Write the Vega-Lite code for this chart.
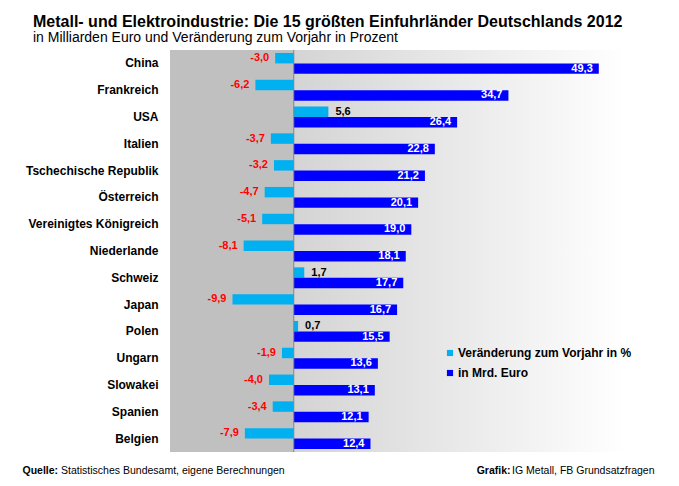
{
  "$schema": "https://vega.github.io/schema/vega-lite/v6.json",
  "width": 495,
  "height": 402,
  "padding": {"left": 22, "top": 13, "right": 0, "bottom": 0},
  "background": "white",
  "config": {
    "locale": {"number": {"decimal": ",", "thousands": ".", "grouping": [3], "currency": ["", " €"], "minus": "-"}},
    "font": "Liberation Sans",
    "view": {"stroke": null}
  },
  "view": {
    "stroke": null,
    "fill": {
      "gradient": "linear", "x1": 0, "x2": 1, "y1": 0, "y2": 0,
      "stops": [
        {"offset": 0, "color": "#c0c0c0"},
        {"offset": 0.248, "color": "#c0c0c0"},
        {"offset": 0.249, "color": "#d4d4d4"},
        {"offset": 0.92, "color": "#ffffff"},
        {"offset": 1, "color": "#ffffff"}
      ]
    }
  },
  "title": {
    "text": "Metall- und Elektroindustrie: Die 15 größten Einfuhrländer Deutschlands 2012",
    "subtitle": "in Milliarden Euro und Veränderung zum Vorjahr in Prozent",
    "anchor": "start",
    "frame": "bounds",
    "dx": 11,
    "fontSize": 16,
    "fontWeight": "bold",
    "color": "#000000",
    "subtitleFontSize": 14,
    "subtitleColor": "#000000",
    "subtitlePadding": 1,
    "offset": 5
  },
  "data": {
    "values": [
      {"land": "China", "serie": "Veränderung zum Vorjahr in %", "wert": -3.0},
      {"land": "China", "serie": "in Mrd. Euro", "wert": 49.3},
      {"land": "Frankreich", "serie": "Veränderung zum Vorjahr in %", "wert": -6.2},
      {"land": "Frankreich", "serie": "in Mrd. Euro", "wert": 34.7},
      {"land": "USA", "serie": "Veränderung zum Vorjahr in %", "wert": 5.6},
      {"land": "USA", "serie": "in Mrd. Euro", "wert": 26.4},
      {"land": "Italien", "serie": "Veränderung zum Vorjahr in %", "wert": -3.7},
      {"land": "Italien", "serie": "in Mrd. Euro", "wert": 22.8},
      {"land": "Tschechische Republik", "serie": "Veränderung zum Vorjahr in %", "wert": -3.2},
      {"land": "Tschechische Republik", "serie": "in Mrd. Euro", "wert": 21.2},
      {"land": "Österreich", "serie": "Veränderung zum Vorjahr in %", "wert": -4.7},
      {"land": "Österreich", "serie": "in Mrd. Euro", "wert": 20.1},
      {"land": "Vereinigtes Königreich", "serie": "Veränderung zum Vorjahr in %", "wert": -5.1},
      {"land": "Vereinigtes Königreich", "serie": "in Mrd. Euro", "wert": 19.0},
      {"land": "Niederlande", "serie": "Veränderung zum Vorjahr in %", "wert": -8.1},
      {"land": "Niederlande", "serie": "in Mrd. Euro", "wert": 18.1},
      {"land": "Schweiz", "serie": "Veränderung zum Vorjahr in %", "wert": 1.7},
      {"land": "Schweiz", "serie": "in Mrd. Euro", "wert": 17.7},
      {"land": "Japan", "serie": "Veränderung zum Vorjahr in %", "wert": -9.9},
      {"land": "Japan", "serie": "in Mrd. Euro", "wert": 16.7},
      {"land": "Polen", "serie": "Veränderung zum Vorjahr in %", "wert": 0.7},
      {"land": "Polen", "serie": "in Mrd. Euro", "wert": 15.5},
      {"land": "Ungarn", "serie": "Veränderung zum Vorjahr in %", "wert": -1.9},
      {"land": "Ungarn", "serie": "in Mrd. Euro", "wert": 13.6},
      {"land": "Slowakei", "serie": "Veränderung zum Vorjahr in %", "wert": -4.0},
      {"land": "Slowakei", "serie": "in Mrd. Euro", "wert": 13.1},
      {"land": "Spanien", "serie": "Veränderung zum Vorjahr in %", "wert": -3.4},
      {"land": "Spanien", "serie": "in Mrd. Euro", "wert": 12.1},
      {"land": "Belgien", "serie": "Veränderung zum Vorjahr in %", "wert": -7.9},
      {"land": "Belgien", "serie": "in Mrd. Euro", "wert": 12.4}
    ]
  },
  "resolve": {"axis": {"x": "independent", "y": "independent"}},
  "layer": [
    {
      "mark": {"type": "bar"},
      "encoding": {
        "y": {
          "field": "land", "type": "nominal", "sort": null,
          "scale": {"paddingInner": 0.22, "paddingOuter": 0.11},
          "axis": {
            "orient": "left",
            "title": "Grafik:",
            "titleAngle": 0, "titleX": 340, "titleY": 423,
            "titleAlign": "right", "titleBaseline": "alphabetic",
            "titleFontWeight": "bold", "titleFontSize": 10.5, "titleColor": "#000000",
            "labelFontWeight": "bold", "labelFontSize": 12, "labelColor": "#000000",
            "labelPadding": 12, "ticks": false, "domain": false
          }
        },
        "yOffset": {
          "field": "serie", "type": "nominal",
          "sort": ["Veränderung zum Vorjahr in %", "in Mrd. Euro"],
          "scale": {"paddingInner": 0, "paddingOuter": 0}
        },
        "x": {
          "field": "wert", "type": "quantitative",
          "scale": {"domain": [-20, 60], "nice": false},
          "axis": {
            "orient": "bottom",
            "title": "Quelle:",
            "labels": false, "ticks": false, "domain": false, "grid": false,
            "titleX": -148, "titleY": 21, "titleAlign": "left", "titleAnchor": null,
            "titleBaseline": "alphabetic", "titleFontWeight": "bold",
            "titleFontSize": 10.5, "titleColor": "#000000"
          }
        },
        "color": {
          "field": "serie", "type": "nominal",
          "scale": {"domain": ["Veränderung zum Vorjahr in %", "in Mrd. Euro"], "range": ["#00b0f0", "#0000ff"]},
          "legend": {
            "title": null, "orient": "none", "legendX": 274, "legendY": 297,
            "symbolType": "square", "symbolSize": 38, "symbolStrokeWidth": 0,
            "labelFontSize": 12, "labelFontWeight": "bold", "labelColor": "#000000",
            "labelLimit": 400, "rowPadding": 8, "labelOffset": 2
          }
        }
      }
    },
    {
      "data": {"values": [{"z": 0}]},
      "mark": {"type": "rule", "color": "#808080", "strokeWidth": 1},
      "encoding": {
        "x": {
          "field": "z", "type": "quantitative",
          "axis": {
            "orient": "top",
            "title": "Statistisches Bundesamt, eigene Berechnungen",
            "labels": false, "ticks": false, "domain": false, "grid": false,
            "titleX": -109.4, "titleY": 423, "titleAlign": "left", "titleAnchor": null,
            "titleBaseline": "alphabetic", "titleFontWeight": "normal",
            "titleFontSize": 10.5, "titleColor": "#000000"
          }
        }
      }
    },
    {
      "transform": [{"filter": "datum.serie == 'Veränderung zum Vorjahr in %' && datum.wert < 0"}],
      "mark": {"type": "text", "align": "right", "baseline": "middle", "dx": -6, "fontSize": 11, "fontWeight": "bold", "color": "#ff0000"},
      "encoding": {
        "y": {"field": "land", "type": "nominal", "sort": null, "axis": null},
        "yOffset": {"field": "serie", "type": "nominal", "sort": ["Veränderung zum Vorjahr in %", "in Mrd. Euro"]},
        "x": {"field": "wert", "type": "quantitative", "axis": null},
        "text": {"field": "wert", "type": "quantitative", "format": ".1f"}
      }
    },
    {
      "transform": [{"filter": "datum.serie == 'Veränderung zum Vorjahr in %' && datum.wert >= 0"}],
      "mark": {"type": "text", "align": "left", "baseline": "middle", "dx": 7, "fontSize": 11, "fontWeight": "bold", "color": "#000000"},
      "encoding": {
        "y": {"field": "land", "type": "nominal", "sort": null, "axis": null},
        "yOffset": {"field": "serie", "type": "nominal", "sort": ["Veränderung zum Vorjahr in %", "in Mrd. Euro"]},
        "x": {"field": "wert", "type": "quantitative", "axis": null},
        "text": {"field": "wert", "type": "quantitative", "format": ".1f"}
      }
    },
    {
      "transform": [{"filter": "datum.serie == 'in Mrd. Euro'"}],
      "mark": {"type": "text", "align": "right", "baseline": "middle", "dx": -6, "fontSize": 11, "fontWeight": "bold", "color": "#ffffff"},
      "encoding": {
        "y": {
          "field": "land", "type": "nominal", "sort": null,
          "axis": {
            "orient": "right",
            "title": "IG Metall, FB Grundsatzfragen",
            "labels": false, "ticks": false, "domain": false, "grid": false,
            "titleAngle": 0, "titleX": -11, "titleY": 423,
            "titleAlign": "right", "titleBaseline": "alphabetic",
            "titleFontWeight": "normal", "titleFontSize": 10.5, "titleColor": "#000000"
          }
        },
        "yOffset": {"field": "serie", "type": "nominal", "sort": ["Veränderung zum Vorjahr in %", "in Mrd. Euro"]},
        "x": {"field": "wert", "type": "quantitative", "axis": null},
        "text": {"field": "wert", "type": "quantitative", "format": ".1f"}
      }
    }
  ]
}
